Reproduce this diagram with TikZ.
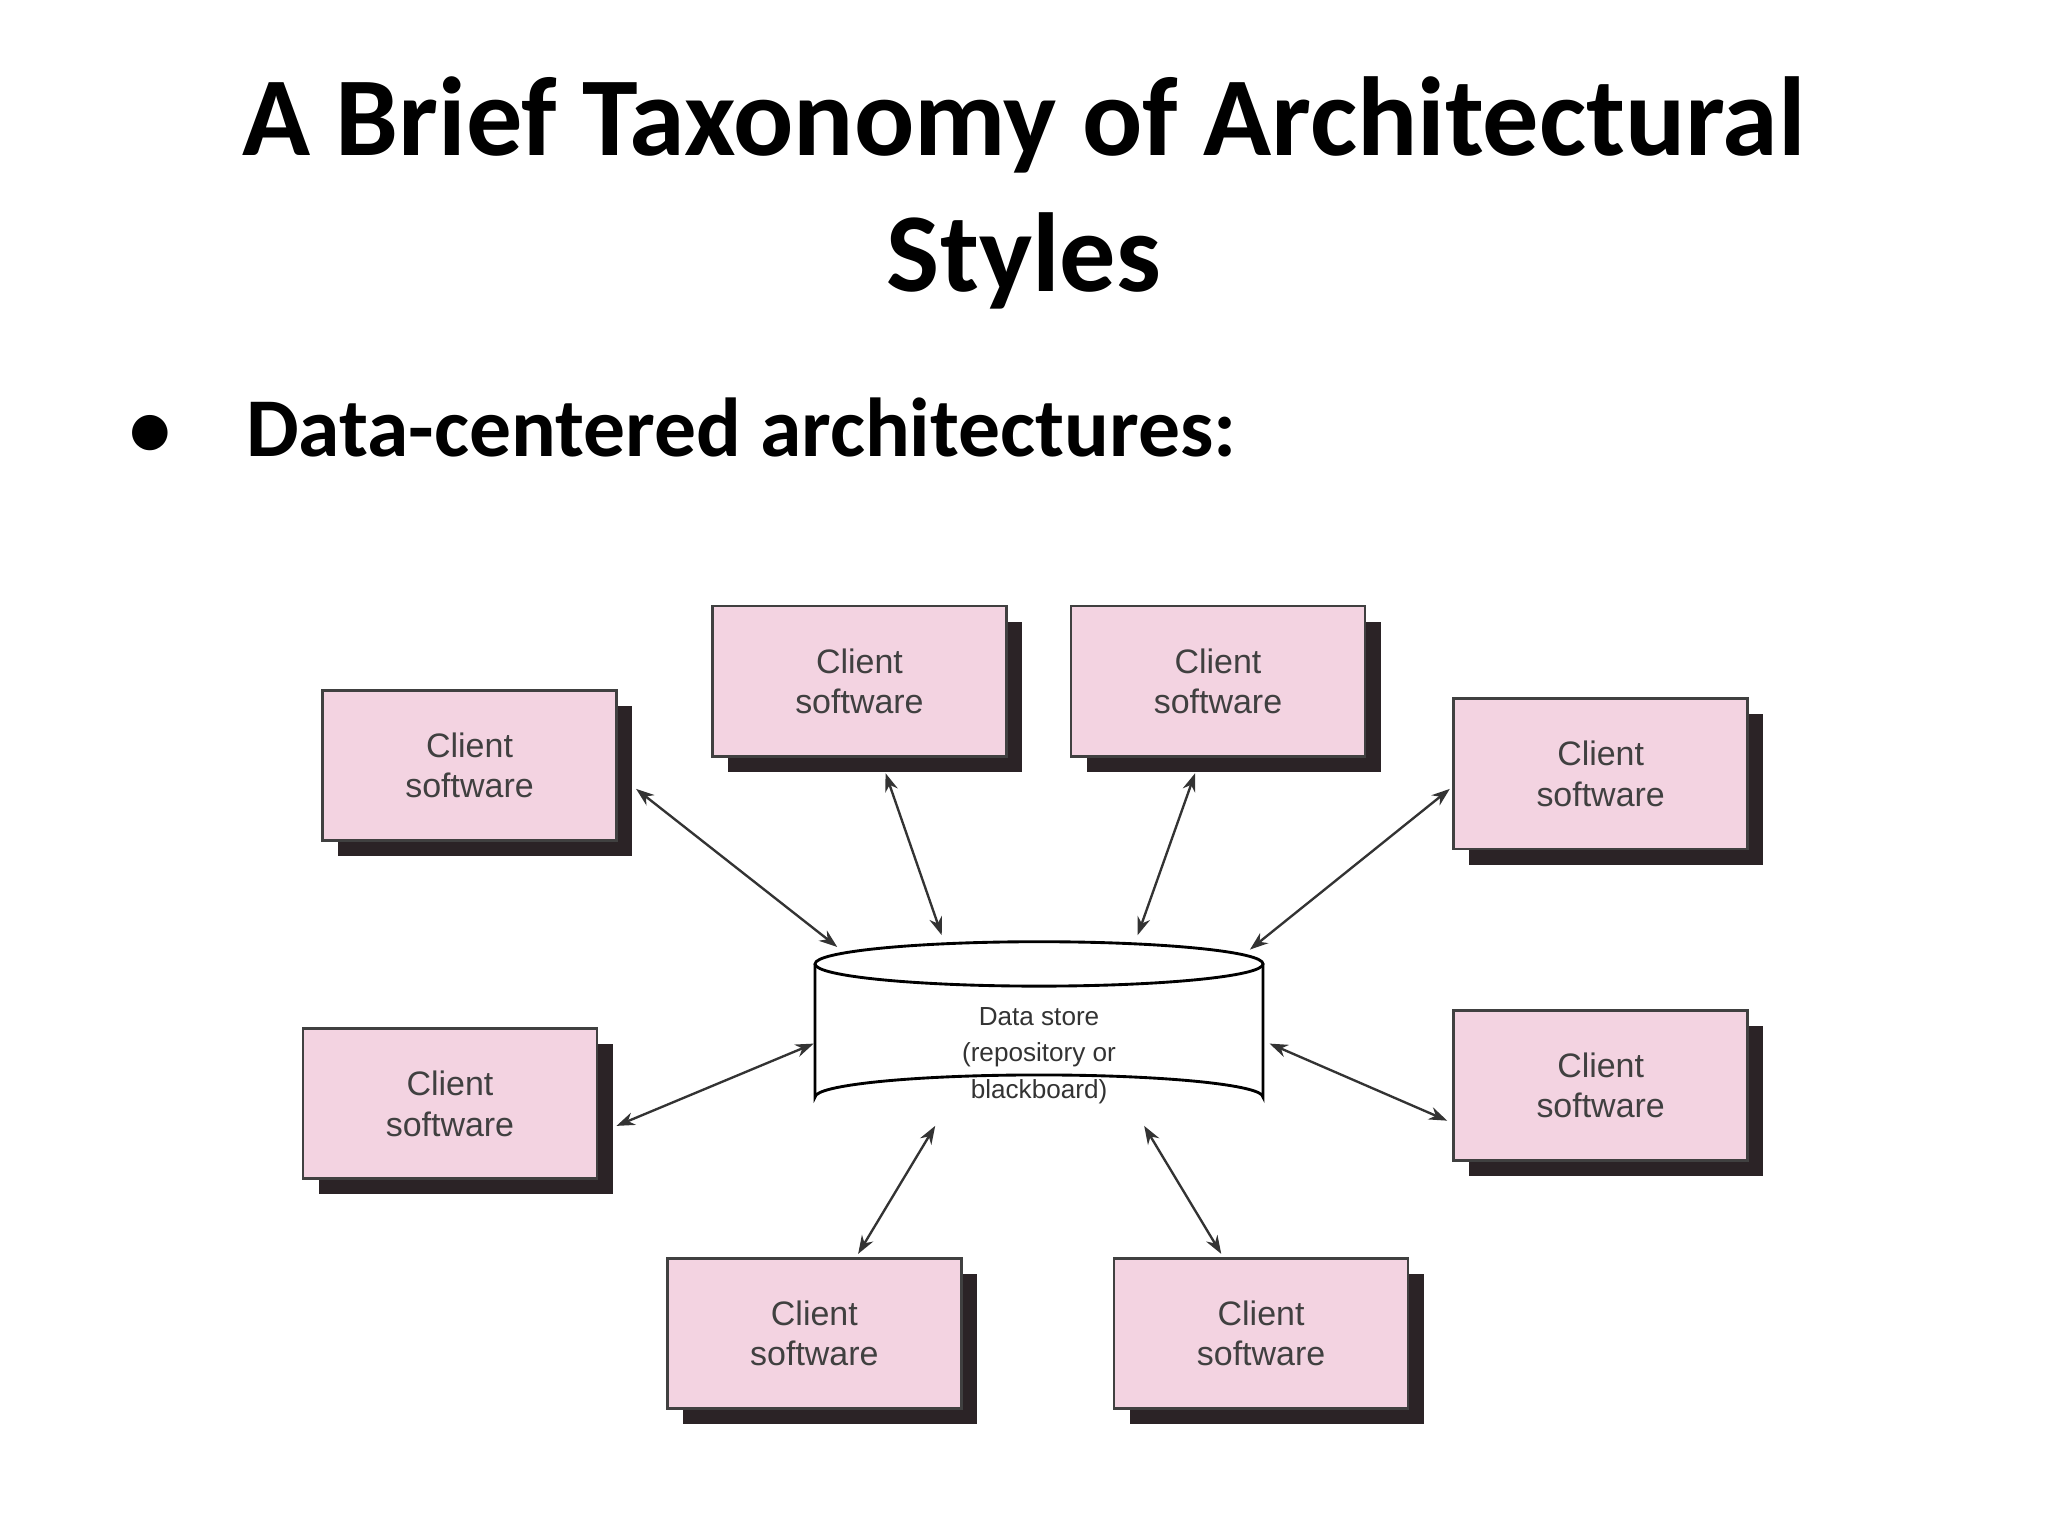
\documentclass[tikz,border=0pt]{standalone}
\usepackage{fontspec}
\setmainfont{Carlito}
\newfontfamily\boxfont{Liberation Sans}
\usetikzlibrary{shadows,arrows.meta}
\definecolor{boxpink}{HTML}{F3D3E1}
\definecolor{shad}{HTML}{2B2326}
\begin{document}
\begin{tikzpicture}[x=0.5pt,y=-0.5pt,
  client/.style={draw=black!75,line width=1pt,fill=boxpink,minimum width=112.5pt,minimum height=57.5pt,
    align=center,font=\boxfont\fontsize{13}{15.5}\selectfont,text=black!75,inner sep=0pt,
    copy shadow={shadow xshift=6pt,shadow yshift=-6pt,fill=shad,draw=none}},
  link/.style={{Stealth[length=7pt,width=5pt]}-{Stealth[length=7pt,width=5pt]},line width=0.9pt,draw=black!80}]
\useasboundingbox (0,0) rectangle (1568,1176);
\fill[white] (0,0) rectangle (1568,1176);
\node[font=\bfseries\fontsize{43}{52}\selectfont,align=center] (title) at (784,148)
  {A Brief Taxonomy of Architectural\\Styles};
\node[font=\bfseries\fontsize{32}{38}\selectfont,anchor=west] (bul) at (92,327) {•\hspace{0.9em}Data-centered architectures:};
% boxes
\node[client] (b1) at (359.5,586) {Client\\software};
\node[client] (b2) at (658,521.5) {Client\\software};
\node[client] (b3) at (932.5,521.5) {Client\\software};
\node[client] (b4) at (1225.5,592.5) {Client\\software};
\node[client] (b5) at (344.5,845) {Client\\software};
\node[client] (b6) at (1225.5,831) {Client\\software};
\node[client] (b7) at (623.5,1021) {Client\\software};
\node[client] (b8) at (965.5,1021) {Client\\software};
% cylinder
\draw[line width=1.1pt,fill=white] (624,738) -- (624,840) arc[start angle=180,end angle=360,x radius=171.5,y radius=17] -- (967,738);
\draw[line width=1.1pt,fill=white] (795.5,738) ellipse[x radius=171.5,y radius=17];
\node[font=\boxfont\fontsize{10}{14}\selectfont,align=center,text=black!80] (ds) at (795.5,808) {Data store\\(repository or\\blackboard)};
% endpoints
\coordinate (p1) at (487,604); \coordinate (q1) at (641,725);
\coordinate (p2) at (678,592); \coordinate (q2) at (721,716);
\coordinate (p3) at (915,592); \coordinate (q3) at (871,716);
\coordinate (p4) at (1110,604); \coordinate (q4) at (957,727);
\coordinate (p5) at (472,862); \coordinate (q5) at (623,799);
\coordinate (p6) at (1108,858); \coordinate (q6) at (972,799);
\coordinate (p7) at (657,960); \coordinate (q7) at (716,862);
\coordinate (p8) at (935,960); \coordinate (q8) at (876,862);
\foreach \i in {1,...,8} \draw[link] (p\i) -- (q\i);
\end{tikzpicture}
\end{document}
